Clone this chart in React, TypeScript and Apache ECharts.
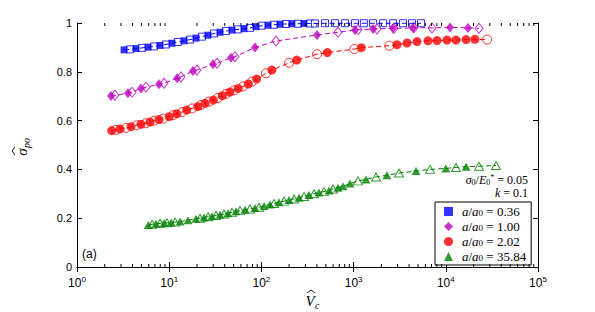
import React, { useEffect, useRef } from "react";
import * as echarts from "echarts";

const BLUE = "#0000ff";
const PURPLE = "#bf00bf";
const RED = "#ff0000";
const GREEN = "#008000";

const xDecades = [1, 10, 100, 1000, 10000, 100000];
const minorMultipliers = [2, 3, 4, 5, 6, 7, 8, 9];
const legendValues = ["0.36", "1.00", "2.02", "35.84"];

// a/a0 = 0.36 (blue squares)
const blueFilledX = [3.24, 4.36, 5.89, 7.94, 10.7, 14.5, 19.5, 26.3, 35.5, 48, 64.7, 87.3, 118, 159, 214, 289];
const blueFilledY = [0.89, 0.895, 0.901, 0.908, 0.917, 0.927, 0.938, 0.95, 0.962, 0.971, 0.977, 0.985, 0.991, 0.995, 0.997, 0.998];
const blueOpenX = [3.76, 5.07, 6.84, 9.23, 12.4, 16.8, 22.7, 30.6, 41.3, 55.7, 75.2, 101, 137, 185, 249, 336, 381, 490, 628, 807, 1036, 1293, 1626, 2090, 2675, 3435, 4300, 5380];
const blueOpenY = [0.892, 0.898, 0.904, 0.912, 0.922, 0.932, 0.944, 0.957, 0.967, 0.974, 0.98, 0.989, 0.993, 0.996, 0.997, 0.998, 0.998, 0.999, 0.999, 0.999, 0.999, 0.999, 0.999, 0.999, 0.999, 0.999, 0.999, 0.999];

// a/a0 = 1.00 (purple diamonds)
const purpleFilledX = [2.34, 3.57, 4.95, 7.75, 12.2, 18.1, 29.9, 46.8, 85.2, 401, 1036, 1626, 2675, 4408, 11100, 17400];
const purpleFilledY = [0.701, 0.712, 0.732, 0.749, 0.774, 0.803, 0.831, 0.858, 0.9, 0.951, 0.971, 0.975, 0.978, 0.98, 0.982, 0.98];
const purpleOpenX = [2.58, 3.95, 5.6, 8.78, 13.4, 20, 33, 51.7, 144, 677, 1116, 1794, 2742, 4520, 7090, 22900];
const purpleOpenY = [0.704, 0.716, 0.737, 0.753, 0.779, 0.807, 0.835, 0.862, 0.926, 0.962, 0.972, 0.976, 0.978, 0.981, 0.98, 0.978];

// a/a0 = 2.02 (red circles)
const redFilledX = [2.38, 2.93, 3.85, 4.94, 6.19, 7.75, 10.0, 12.1, 15.5, 20.4, 24.5, 30.1, 37.7, 45.6, 56.1, 72.1, 88.9, 130, 242, 519, 1213, 2955, 3795, 4870, 6410, 8030, 10300, 12900, 16600, 20700];
const redFilledY = [0.559, 0.566, 0.575, 0.585, 0.594, 0.604, 0.616, 0.628, 0.643, 0.657, 0.671, 0.684, 0.702, 0.717, 0.732, 0.75, 0.77, 0.807, 0.848, 0.879, 0.899, 0.911, 0.918, 0.924, 0.927, 0.928, 0.93, 0.93, 0.932, 0.933];
const redOpenX = [2.65, 3.4, 4.44, 5.6, 6.89, 8.63, 11.0, 13.8, 17.7, 22.1, 27.0, 33.8, 41.3, 50.5, 63.1, 79.1, 112, 200, 401, 1018, 2440, 28000];
const redOpenY = [0.562, 0.57, 0.581, 0.589, 0.6, 0.608, 0.622, 0.635, 0.65, 0.664, 0.678, 0.693, 0.71, 0.724, 0.74, 0.76, 0.794, 0.837, 0.872, 0.893, 0.907, 0.932];

// a/a0 = 35.84 (green triangles)
const greenFilledX = [5.93, 7.19, 8.79, 10.5, 13.1, 16.0, 19.5, 23.9, 29.1, 35.6, 43.4, 53.0, 66.4, 85.2, 107, 124, 155, 199, 256, 328, 421, 541, 677, 767, 914, 1362, 2300, 4750, 10000, 16600];
const greenFilledY = [0.172, 0.177, 0.18, 0.182, 0.186, 0.192, 0.198, 0.203, 0.208, 0.214, 0.22, 0.228, 0.235, 0.242, 0.25, 0.256, 0.265, 0.275, 0.284, 0.295, 0.305, 0.314, 0.325, 0.331, 0.342, 0.359, 0.376, 0.393, 0.404, 0.411];
const greenOpenX = [6.51, 7.95, 9.47, 11.6, 21.6, 26.4, 32.2, 39.3, 48.0, 58.6, 75.2, 94.2, 137, 176, 226, 290, 372, 477, 598, 1116, 1750, 3105, 6740, 12900, 22900, 35000];
const greenOpenY = [0.175, 0.179, 0.181, 0.184, 0.2, 0.206, 0.211, 0.217, 0.224, 0.231, 0.238, 0.245, 0.26, 0.27, 0.279, 0.289, 0.3, 0.309, 0.32, 0.353, 0.369, 0.385, 0.4, 0.408, 0.413, 0.416];

const pairs = (xs: number[], ys: number[]) => xs.map((x, i) => [x, ys[i]]);

const groups = [
  { name: legendValues[0], color: BLUE, symbol: "rect", size: 7 as any, fx: blueFilledX, fy: blueFilledY, ox: blueOpenX, oy: blueOpenY },
  { name: legendValues[1], color: PURPLE, symbol: "diamond", size: [8, 10] as any, fx: purpleFilledX, fy: purpleFilledY, ox: purpleOpenX, oy: purpleOpenY },
  { name: legendValues[2], color: RED, symbol: "circle", size: 9 as any, fx: redFilledX, fy: redFilledY, ox: redOpenX, oy: redOpenY },
  { name: legendValues[3], color: GREEN, symbol: "triangle", size: [9, 8] as any, fx: greenFilledX, fy: greenFilledY, ox: greenOpenX, oy: greenOpenY },
];

const SERIF = '"Liberation Serif", "DejaVu Serif", serif';
const SANS = '"Liberation Sans", Arial, sans-serif';

const italic = (text: string, size: number, x: number, y: number, align = "center") => ({
  type: "text",
  x,
  y,
  silent: true,
  style: { text, fontSize: size, fontFamily: SERIF, fontStyle: "italic", fill: "#000", align, verticalAlign: "middle" },
});

export default function App() {
  const ref = useRef<HTMLDivElement>(null);
  useEffect(() => {
    if (!ref.current) return;
    const chart = echarts.init(ref.current, undefined, { renderer: "svg" });

    const minorTicks: number[][] = [];
    xDecades.slice(0, -1).forEach((d) => minorMultipliers.forEach((m) => minorTicks.push([d * m, 0])));

    const series: any[] = [];
    groups.forEach((g) => {
      const filled = pairs(g.fx, g.fy);
      const open = pairs(g.ox, g.oy);
      const all = [...filled, ...open].sort((a, b) => a[0] - b[0]);
      series.push({
        type: "scatter",
        name: g.name + "_open",
        data: open,
        symbol: g.symbol,
        symbolSize: g.size,
        itemStyle: { color: "#ffffff", borderColor: g.color, borderWidth: 1 },
        z: 2,
        clip: false,
        silent: true,
      });
      series.push({
        type: "line",
        name: g.name + "_line",
        data: all,
        showSymbol: false,
        symbol: "none",
        lineStyle: { color: g.color, width: 1, type: [5, 3] },
        z: 3,
        clip: false,
        silent: true,
      });
      series.push({
        type: "scatter",
        name: g.name,
        data: filled,
        symbol: g.symbol,
        symbolSize: g.size,
        itemStyle: { color: g.color },
        z: 4,
        clip: false,
        silent: true,
      });
    });

    series.push({
      type: "custom",
      name: "minorTicks",
      data: minorTicks,
      silent: true,
      z: 5,
      renderItem: (params: any, api: any) => {
        const x = api.coord([api.value(0), 0])[0];
        const cs = params.coordSys;
        return {
          type: "group",
          children: [
            { type: "line", shape: { x1: x, y1: cs.y + cs.height, x2: x, y2: cs.y + cs.height - 3 }, style: { stroke: "#000", lineWidth: 1 } },
            { type: "line", shape: { x1: x, y1: cs.y, x2: x, y2: cs.y + 3 }, style: { stroke: "#000", lineWidth: 1 } },
          ],
        };
      },
    });

    const axisLine = { show: true, lineStyle: { color: "#000", width: 1 } };

    chart.setOption({
      animation: false,
      backgroundColor: "#ffffff",
      grid: { left: 77, right: 57, top: 23, bottom: 45, containLabel: false },
      xAxis: [
        {
          type: "log",
          logBase: 10,
          min: xDecades[0],
          max: xDecades[xDecades.length - 1],
          axisLine,
          axisTick: { show: true, inside: true, length: 5, lineStyle: { color: "#000" } },
          splitLine: { show: false },
          axisLabel: {
            margin: 8,
            formatter: (v: number) => `{b|10}{e|${Math.round(Math.log10(v))}}`,
            rich: {
              b: { fontSize: 12, fontFamily: SANS, color: "#000", lineHeight: 14, verticalAlign: "bottom" },
              e: { fontSize: 8, fontFamily: SANS, color: "#000", lineHeight: 6, verticalAlign: "top" },
            },
          },
        },
        {
          type: "log",
          logBase: 10,
          position: "top",
          min: xDecades[0],
          max: xDecades[xDecades.length - 1],
          axisLine,
          axisTick: { show: true, inside: true, length: 5, lineStyle: { color: "#000" } },
          axisLabel: { show: false },
          splitLine: { show: false },
        },
      ],
      yAxis: [
        {
          type: "value",
          min: 0,
          max: 1,
          interval: 0.2,
          axisLine,
          axisTick: { show: true, inside: true, length: 5, lineStyle: { color: "#000" } },
          splitLine: { show: false },
          axisLabel: { fontSize: 11, fontFamily: SANS, color: "#000", margin: 5 },
        },
        {
          type: "value",
          position: "right",
          min: 0,
          max: 1,
          interval: 0.2,
          axisLine,
          axisTick: { show: true, inside: true, length: 5, lineStyle: { color: "#000" } },
          splitLine: { show: false },
          axisLabel: { show: false },
        },
      ],
      legend: {
        orient: "vertical",
        left: 435,
        top: 202,
        padding: [3, 5, 2, 9],
        itemGap: 2,
        itemWidth: 9,
        itemHeight: 9,
        borderColor: "#000",
        borderWidth: 1,
        borderRadius: 0,
        backgroundColor: "#ffffff",
        data: [
          { name: legendValues[0], icon: "rect" },
          { name: legendValues[1], icon: "diamond" },
          { name: legendValues[2], icon: "circle" },
          { name: legendValues[3], icon: "triangle" },
        ],
        formatter: (name: string) => `{i|a}{n|/}{i|a}{s|0}{n| = ${name}}`,
        textStyle: {
          padding: [0, 0, 0, 4],
          rich: {
            i: { fontSize: 13, fontFamily: SERIF, fontStyle: "italic", color: "#000", lineHeight: 12, verticalAlign: "middle" },
            n: { fontSize: 13, fontFamily: SERIF, color: "#000", lineHeight: 12, verticalAlign: "middle" },
            s: { fontSize: 9, fontFamily: SERIF, color: "#000", lineHeight: 5, verticalAlign: "bottom" },
          },
        },
      },
      graphic: [
        {
          type: "group",
          x: 22,
          y: 152,
          rotation: Math.PI / 2,
          silent: true,
          children: [
            italic("\u03C3", 15, 0, 0),
            { type: "polyline", silent: true, shape: { points: [[-3, -7], [1, -10], [5, -7]] }, style: { stroke: "#000", lineWidth: 0.9, fill: "none" } },
            italic("po", 10, 4, 4, "left"),
          ],
        },
        {
          type: "group",
          x: 310,
          y: 301,
          silent: true,
          children: [
            italic("V", 15, 0, 0),
            { type: "polyline", silent: true, shape: { points: [[-3, -8], [1, -11], [5, -8]] }, style: { stroke: "#000", lineWidth: 0.9, fill: "none" } },
            italic("c", 10, 5, 4, "left"),
          ],
        },
        {
          type: "text",
          x: 528,
          y: 180,
          silent: true,
          style: {
            text: "{i|\u03C3}{s|0}{n|/}{i|E}{s|0}{p|*}{n| = 0.05}",
            align: "right",
            verticalAlign: "middle",
            rich: {
              i: { fontSize: 12, fontFamily: SERIF, fontStyle: "italic", fill: "#000", lineHeight: 13, verticalAlign: "middle" },
              n: { fontSize: 12, fontFamily: SERIF, fill: "#000", lineHeight: 13, verticalAlign: "middle" },
              s: { fontSize: 8, fontFamily: SERIF, fill: "#000", lineHeight: 5, verticalAlign: "bottom" },
              p: { fontSize: 8, fontFamily: SERIF, fill: "#000", lineHeight: 6, verticalAlign: "top" },
            },
          },
        },
        {
          type: "text",
          x: 528,
          y: 193,
          silent: true,
          style: {
            text: "{i|k}{n| = 0.1}",
            align: "right",
            verticalAlign: "middle",
            rich: {
              i: { fontSize: 12, fontFamily: SERIF, fontStyle: "italic", fill: "#000", lineHeight: 13, verticalAlign: "middle" },
              n: { fontSize: 12, fontFamily: SERIF, fill: "#000", lineHeight: 13, verticalAlign: "middle" },
            },
          },
        },
        {
          type: "text",
          x: 82,
          y: 254,
          silent: true,
          style: { text: "(a)", fontSize: 12, fontFamily: SANS, fill: "#000", verticalAlign: "middle" },
        },
      ],
      series,
    });

    return () => chart.dispose();
  }, []);

  return <div ref={ref} style={{ position: "absolute", left: 0, top: 0, width: 595, height: 312 }} />;
}
